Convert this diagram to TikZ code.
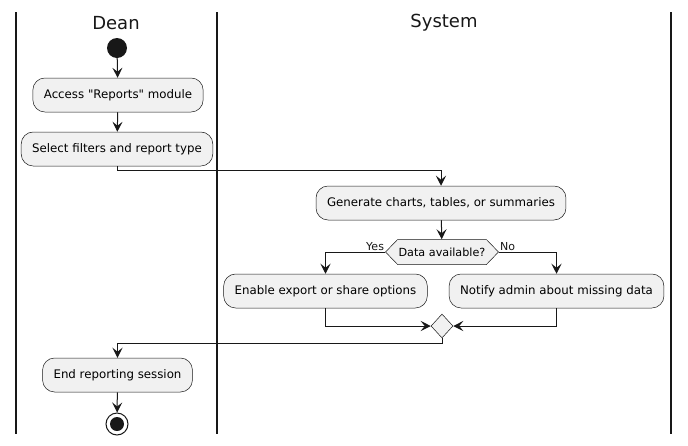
\documentclass[tikz,border=0pt]{standalone}
\usepackage{fontspec}
\setmainfont{DejaVu Sans}[Ligatures=TeXOff]
\usetikzlibrary{arrows.meta,shapes.geometric,shapes.symbols}
\definecolor{ln}{HTML}{181818}
\definecolor{bx}{HTML}{F1F1F1}
\begin{document}
\begin{tikzpicture}[x=1pt,y=-1pt,
  act/.style={draw=ln,fill=bx,rounded corners=12pt,line width=0.5pt,minimum height=34pt,inner xsep=11pt,font=\fontsize{11.8}{14}\selectfont},
  flow/.style={draw=ln,line width=1pt,-{Stealth[length=10pt,width=10pt,inset=4pt]}},
  lane/.style={draw=ln,line width=1.5pt},
  hdr/.style={font=\fontsize{18}{21}\selectfont,text=ln},
  lbl/.style={font=\fontsize{11}{13}\selectfont,text=ln,inner sep=1pt}
]
\fill[white] (0,0) rectangle (688,445);
\useasboundingbox (0,0) rectangle (688,445);
% lanes
\coordinate (l1t) at (16,12); \coordinate (l1b) at (16,434);
\coordinate (l2t) at (217,12); \coordinate (l2b) at (217,434);
\coordinate (l3t) at (671,12); \coordinate (l3b) at (671,434);
\draw[lane] (l1t) -- (l1b);
\draw[lane] (l2t) -- (l2b);
\draw[lane] (l3t) -- (l3b);
\node[hdr] (hdean) at (116,23) {Dean};
\node[hdr] (hsys) at (444,23) {System};
% nodes
\node[circle,fill=ln,minimum size=20pt,inner sep=0] (start) at (117,48) {};
\node[act] (a1) at (118,95) {Access "Reports" module};
\node[act] (a2) at (117,149) {Select filters and report type};
\node[act] (a3) at (441,203) {Generate charts, tables, or summaries};
\node[signal,signal to=west and east,signal pointer angle=92,draw=ln,fill=bx,line width=0.5pt,minimum width=110pt,minimum height=25pt,inner sep=1pt,font=\fontsize{11.2}{13}\selectfont] (dec) at (442,252) {Data available?};
\node[act] (a4) at (325.5,291) {Enable export or share options};
\node[act] (a5) at (556.5,291) {Notify admin about missing data};
\node[diamond,draw=ln,fill=bx,line width=0.5pt,minimum width=22pt,minimum height=24pt,inner sep=0] (merge) at (442,326) {};
\node[act] (a6) at (117.5,375) {End reporting session};
\node[circle,draw=ln,line width=1pt,minimum size=22pt,inner sep=0] (stop) at (117,424) {};
\fill[ln] (stop.center) circle (7);
% connectors
\draw[flow] (start) -- (a1);
\draw[flow] (a1) -- (a2);
\draw[flow] (a2.south) -- ++(0,4) -| (a3.north);
\draw[flow] (a3) -- (dec);
\draw[flow] (dec.west) -| (a4.north);
\draw[flow] (dec.east) -| (a5.north);
\node[lbl,anchor=south east] (yes) at (dec.west) {Yes};
\node[lbl,anchor=south west] (no) at (dec.east) {No};
\draw[flow] (a4.south) |- (merge.west);
\draw[flow] (a5.south) |- (merge.east);
\draw[flow] (merge.south) -- ++(0,5) -| (a6.north);
\draw[flow] (a6) -- (stop);
\end{tikzpicture}
\end{document}
